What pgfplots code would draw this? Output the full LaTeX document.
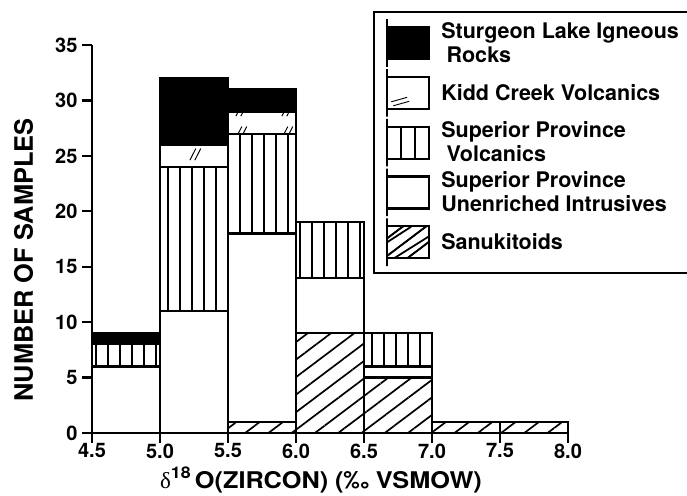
\documentclass[border=0pt]{standalone}
\usepackage{fontspec}
\setmainfont{TeX Gyre Heros}
\newfontfamily\xlabfont[FakeStretch=1.1]{TeX Gyre Heros}
\newfontfamily\serifdelta{Liberation Serif}
\usepackage{pgfplots}
\pgfplotsset{compat=1.18}
\usetikzlibrary{patterns.meta}
\pgfdeclarepattern{
  name=kidd,
  type=uncolored,
  bottom left={\pgfpoint{0pt}{0pt}},
  top right={\pgfpoint{46pt}{22pt}},
  tile size={\pgfpoint{46pt}{22pt}},
  code={
    \pgfsetlinewidth{1pt}
    \pgfpathmoveto{\pgfpoint{6pt}{5pt}}
    \pgfpathlineto{\pgfpoint{12pt}{17pt}}
    \pgfpathmoveto{\pgfpoint{11pt}{5pt}}
    \pgfpathlineto{\pgfpoint{17pt}{17pt}}
    \pgfusepath{stroke}
  }
}
\pgfplotsset{
  mylegend/.style={legend image code/.code={%
    \draw[##1,line width=2.2pt] (0pt,-16pt) rectangle (42pt,16pt);
    \path (0pt,-23.8pt) rectangle (0pt,23.8pt);}},
  kiddlegend/.style={legend image code/.code={%
    \draw[fill=white,line width=2.2pt] (0pt,-16pt) rectangle (42pt,16pt);
    \draw[line width=0.9pt] (4pt,-9pt) -- (20pt,-4.5pt) (6pt,-13pt) -- (22pt,-8.5pt);
    \path (0pt,-23.8pt) rectangle (0pt,23.8pt);}},
  spvlegend/.style={legend image code/.code={%
    \draw[fill=white,line width=2.2pt] (0pt,-16pt) rectangle (42pt,16pt);
    \draw[line width=2.4pt] (14pt,-16pt) -- (14pt,16pt) (28pt,-16pt) -- (28pt,16pt);
    \path (0pt,-23.8pt) rectangle (0pt,23.8pt);}},
  sanlegend/.style={legend image code/.code={%
    \begin{scope}
    \clip (0pt,-16pt) rectangle (42pt,16pt);
    \draw[line width=1.8pt] (0pt,0pt) -- (24pt,15.5pt) (7pt,-16pt) -- (42pt,6pt);
    \end{scope}
    \draw[line width=2.2pt] (0pt,-16pt) rectangle (42pt,16pt);
    \path (0pt,-23.8pt) rectangle (0pt,23.8pt);}},
}
\begin{document}
\begin{tikzpicture}
\begin{axis}[
  scale only axis, width=476pt, height=388pt,
  xmin=4.5, xmax=8, ymin=0, ymax=35,
  ybar stacked, bar width=0.5,
  clip=false,
  axis lines=left, axis line style={-, line width=2.4pt},
  tick style={line width=2.4pt, black},
  tick align=outside, major tick length=10pt,
  xtick={4.5,5.0,5.5,6.0,6.5,7.0,7.5,8.0},
  ytick={0,5,10,15,20,25,30,35},
  xticklabel style={yshift=3pt, /pgf/number format/.cd, fixed, fixed zerofill, precision=1},
  yticklabel style={xshift=-1pt},
  /pgf/number format/assume math mode=true,
  ticklabel style={font=\bfseries\fontsize{20}{20}\selectfont},
  xlabel={{\serifdelta\fontseries{m}\selectfont δ}\textsuperscript{18}\,O(ZIRCON) (‰ VSMOW)},
  ylabel={NUMBER OF SAMPLES},
  xlabel style={font=\xlabfont\bfseries\fontsize{23}{23}\selectfont, at={(rel axis cs:0.481,0)}, anchor=base, inner sep=0pt, yshift=-55pt},
  ylabel style={font=\bfseries\fontsize{25.4}{25.4}\selectfont, at={(rel axis cs:0,0.446)}, anchor=base, inner sep=0pt, yshift=59pt},
  reverse legend,
  legend style={at={(rel axis cs:0.5903,1.0876)}, anchor=north west, draw=black, line width=2.2pt,
    font=\bfseries\fontsize{21.5}{24}\selectfont, inner xsep=12pt, inner ysep=6pt,
    row sep=0pt, column sep=11pt, nodes={inner sep=0pt}, cells={anchor=west, align=left}},
]
\addplot[sanlegend, draw=black, line width=2.2pt, pattern={Lines[angle=37,distance=14pt,line width=1.7pt]}]
  coordinates {(4.75,0) (5.25,0) (5.75,1) (6.25,9) (6.75,5) (7.25,1) (7.75,1)};
\addlegendentry{Sanukitoids}
\addplot[mylegend, draw=black, line width=2.2pt, fill=white]
  coordinates {(4.75,6) (5.25,11) (5.75,17) (6.25,5) (6.75,1) (7.25,0) (7.75,0)};
\addlegendentry{Superior Province\\Unenriched Intrusives}
\addplot[spvlegend, draw=black, line width=2.2pt, pattern={Lines[angle=90,distance=12pt,line width=2.6pt]}]
  coordinates {(4.75,2) (5.25,13) (5.75,9) (6.25,5) (6.75,3) (7.25,0) (7.75,0)};
\addlegendentry{Superior Province\\\hspace{0.25em}Volcanics}
\addplot[kiddlegend, draw=black, line width=2.2pt, pattern=kidd]
  coordinates {(4.75,0) (5.25,2) (5.75,2) (6.25,0) (6.75,0) (7.25,0) (7.75,0)};
\addlegendentry{Kidd Creek Volcanics}
\addplot[mylegend, draw=black, line width=2.2pt, fill=black]
  coordinates {(4.75,1) (5.25,6) (5.75,2) (6.25,0) (6.75,0) (7.25,0) (7.75,0)};
\addlegendentry{Sturgeon Lake Igneous\\\hspace{0.25em}Rocks}
\end{axis}
\pgfresetboundingbox
\useasboundingbox (-92pt,-62pt) rectangle (595pt,433pt);
\end{tikzpicture}
\end{document}
